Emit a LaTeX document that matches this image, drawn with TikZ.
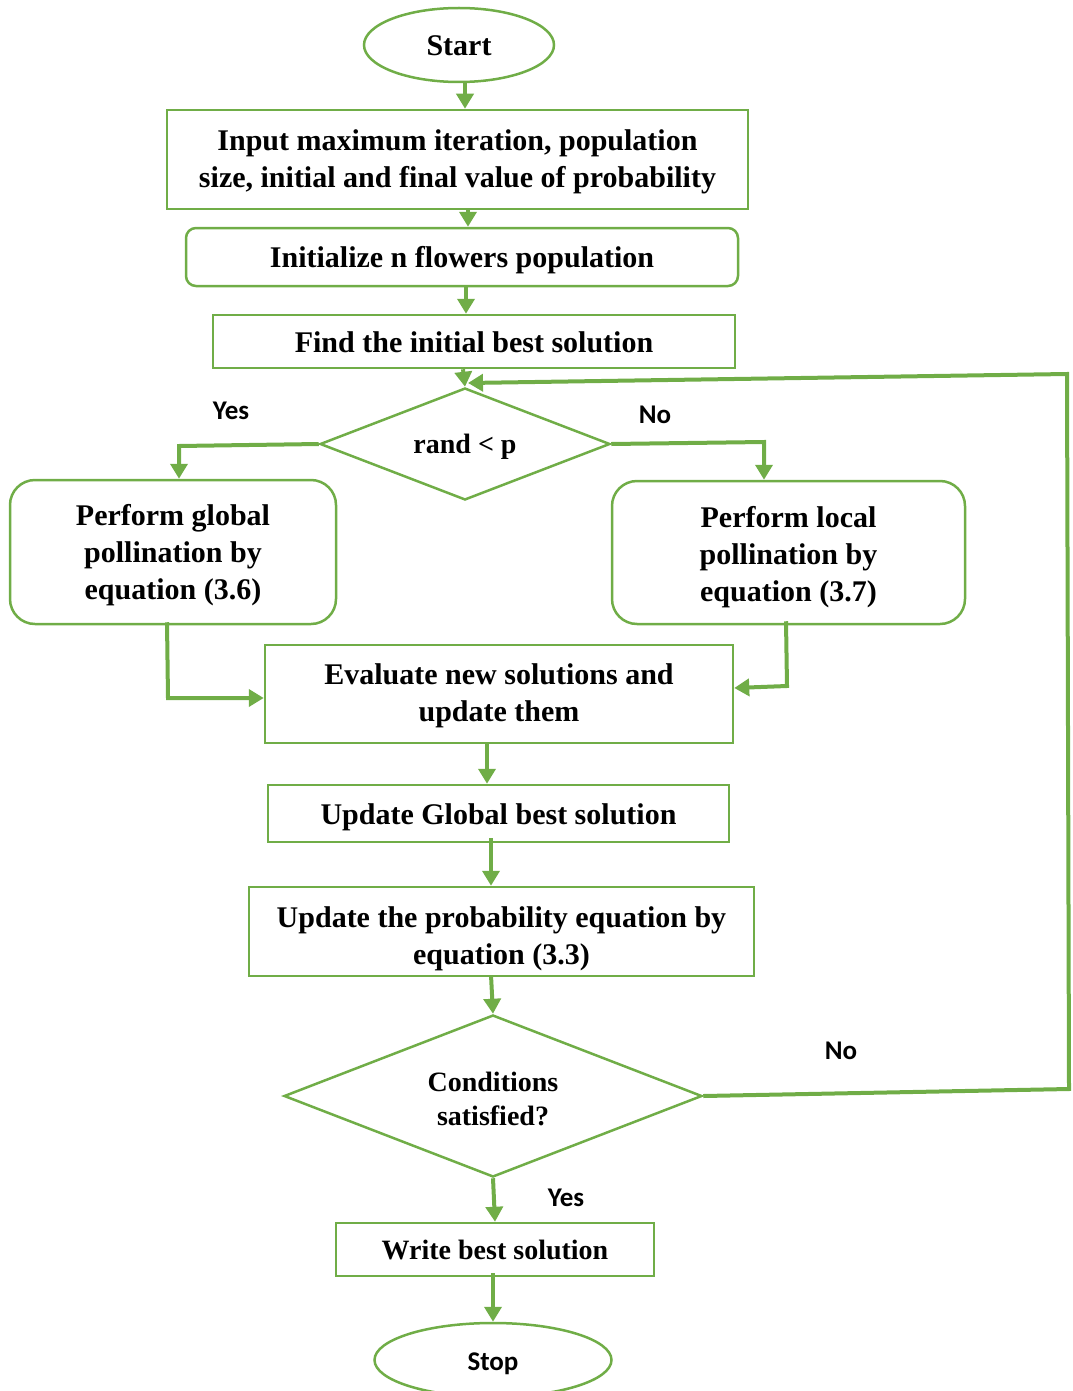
\documentclass[tikz,border=0pt]{standalone}
\usepackage{fontspec}
\setmainfont{Liberation Serif}
\newfontfamily\labfont{Carlito}
\usetikzlibrary{shapes.geometric,arrows.meta}
\definecolor{fcgreen}{HTML}{70AD47}
\newcommand\fcup[1]{\rule{0pt}{#1pt}}
\tikzset{
  plainbox/.style={draw=fcgreen,line width=2.5pt,inner sep=0pt,align=center,
    font=\fontsize{30}{37}\selectfont\bfseries},
  box/.style={plainbox,execute at begin node={\rule{0pt}{28pt}},
    execute at end node={\rule[-7pt]{0pt}{0pt}}},
  mbox/.style={plainbox},
  rbox/.style={box,rounded corners=#1},
  rmbox/.style={mbox,rounded corners=#1},
  term/.style={box,ellipse},
  dec/.style={draw=fcgreen,line width=2.5pt,diamond,shape aspect=2.59,inner sep=0pt,align=center,
    font=\fontsize{28}{34}\selectfont\bfseries},
  conn/.style={draw=fcgreen,line width=4pt,-{Triangle[length=15pt,width=17pt]}},
  lab/.style={font=\labfont\fontsize{27}{30}\selectfont\bfseries},
}
\begin{document}
\begin{tikzpicture}[x=1pt,y=-1pt]
\useasboundingbox (0,0) rectangle (1072,1391);
\clip (0,0) rectangle (1072,1391);
% nodes
\node[term,minimum width=190pt,minimum height=74pt] (start) at (459,45) {Start};
\node[mbox,minimum width=581pt,minimum height=99pt] (input) at (457.5,159.5)
  {\fcup{25}Input maximum iteration, population\\size, initial and final value of probability};
\node[rbox=10pt,minimum width=552pt,minimum height=58pt] (init) at (462,257) {Initialize n flowers population};
\node[box,minimum width=522pt,minimum height=53pt] (find) at (474,341.5) {Find the initial best solution};
\node[dec,minimum width=290pt,minimum height=112pt] (rand) at (465,444) {\fcup{25}rand {\char`<} p};
\node[rmbox=25pt,minimum width=326pt,minimum height=144pt] (glob) at (173,552)
  {\fcup{27}Perform global\\pollination by\\equation (3.6)};
\node[rmbox=25pt,minimum width=353pt,minimum height=143pt] (loc) at (788.5,552.5)
  {\fcup{31}Perform local\\pollination by\\equation (3.7)};
\node[mbox,minimum width=468pt,minimum height=98pt] (eval) at (499,694)
  {\fcup{25}Evaluate new solutions and\\update them};
\node[box,minimum width=461pt,minimum height=57pt] (ugb) at (498.5,813.5) {Update Global best solution};
\node[mbox,minimum width=505pt,minimum height=89pt] (uprob) at (501.5,931.5)
  {\fcup{35}Update the probability equation by\\equation (3.3)};
\node[dec,minimum width=418pt,minimum height=162pt] (cond) at (493,1096) {\fcup{25}Conditions\\satisfied?};
\node[plainbox,minimum width=318pt,minimum height=53pt,font=\fontsize{28}{34}\selectfont\bfseries] (write) at (495,1249.5) {Write best solution};
\node[term,minimum width=237pt,minimum height=74pt,font=\labfont\fontsize{27}{30}\selectfont\bfseries] (stop) at (493,1360) {Stop};
% labels
\node[lab] (yes1) at (231,411) {Yes};
\node[lab] (no1) at (655,415) {No};
\node[lab] (no2) at (841,1051) {No};
\node[lab] (yes2) at (566,1198) {Yes};
% connectors
\draw[conn] (start.south -| 465,0) -- (input.north -| 465,0);
\draw[conn] (input.south -| 468,0) -- (init.north -| 468,0);
\draw[conn] (init.south -| 466,0) -- (find.north -| 466,0);
\draw[conn] (find.south -| 463,0) -- (rand.north);
\draw[conn] (rand.west) -- (179,446) -- (glob.north -| 179,0);
\draw[conn] (rand.east) -- (764,442) -- (loc.north -| 764,0);
\draw[conn] ([yshift=3pt]glob.south -| 167,0) -- (168,698) -- (eval.west |- 0,698);
\draw[conn] ([yshift=4pt]loc.south -| 786,0) -- (787,686) -- (eval.east |- 0,688);
\draw[conn] (eval.south -| 487,0) -- (ugb.north -| 487,0);
\draw[conn] ([yshift=5pt]ugb.south -| 491,0) -- (uprob.north -| 491,0);
\draw[conn] ([yshift=2pt]uprob.south -| 491,0) -- (cond.north);
\coordinate (looptip) at (468,383);
\draw[conn] (cond.east) -- (1069,1089) -- (1067,374) -- (looptip);
\draw[conn] (cond.south) -- (write.north -| 495,0);
\draw[conn] ([yshift=4pt]write.south -| 493,0) -- (stop.north);
\end{tikzpicture}
\end{document}
